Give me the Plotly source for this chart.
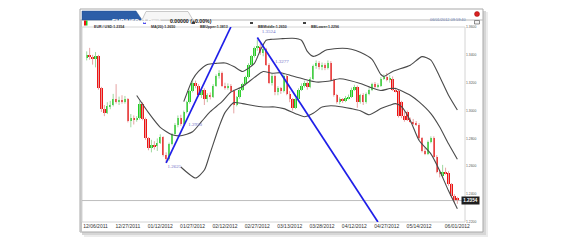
import plotly.graph_objects as go

# ---------------- data ----------------
bar_open = [1.3380, 1.3400, 1.3385, 1.3370, 1.3395, 1.3160, 1.3010, 1.2985, 1.3030, 1.3040,
            1.3085, 1.3060, 1.3075, 1.3065, 1.3080, 1.2925, 1.2950, 1.2935, 1.2945, 1.3050,
            1.2940, 1.2800, 1.2730, 1.2755, 1.2745, 1.2770, 1.2810, 1.2680, 1.2650, 1.2760,
            1.2830, 1.2900, 1.2950, 1.2905, 1.2990, 1.3060, 1.3140, 1.3200, 1.3180, 1.3110,
            1.3150, 1.3080, 1.3110, 1.3100, 1.3180, 1.3250, 1.3270, 1.3180, 1.3165, 1.3180,
            1.3140, 1.3040, 1.3095, 1.3150, 1.3190, 1.3240, 1.3330, 1.3390, 1.3450, 1.3460,
            1.3410, 1.3440, 1.3330, 1.3200, 1.3250, 1.3130, 1.3160, 1.3140, 1.3250, 1.3120,
            1.3080, 1.3020, 1.3080, 1.3150, 1.3180, 1.3200, 1.3170, 1.3230, 1.3320, 1.3340,
            1.3310, 1.3330, 1.3305, 1.3345, 1.3220, 1.3110, 1.3060, 1.3080, 1.3070, 1.3090,
            1.3100, 1.3150, 1.3170, 1.3060, 1.3110, 1.3060, 1.3120, 1.3150, 1.3190, 1.3170,
            1.3180, 1.3230, 1.3240, 1.3220, 1.3230, 1.3150, 1.3140, 1.3060, 1.2960, 1.2990,
            1.2935, 1.2920, 1.2905, 1.2900, 1.2800, 1.2710, 1.2690, 1.2775, 1.2805, 1.2670,
            1.2560, 1.2530, 1.2560, 1.2555, 1.2470, 1.2385, 1.2370]
bar_high = [1.3425, 1.3450, 1.3400, 1.3420, 1.3400, 1.3170, 1.3040, 1.3060, 1.3070, 1.3120,
            1.3190, 1.3100, 1.3110, 1.3105, 1.3090, 1.2975, 1.2965, 1.2960, 1.3070, 1.3060,
            1.2950, 1.2810, 1.2790, 1.2780, 1.2800, 1.2830, 1.2815, 1.2700, 1.2770, 1.2840,
            1.2910, 1.2965, 1.2970, 1.3000, 1.3070, 1.3150, 1.3225, 1.3215, 1.3190, 1.3165,
            1.3160, 1.3125, 1.3130, 1.3190, 1.3260, 1.3290, 1.3280, 1.3200, 1.3195, 1.3190,
            1.3150, 1.3105, 1.3160, 1.3200, 1.3250, 1.3340, 1.3400, 1.3460, 1.3510, 1.3480,
            1.3480, 1.3450, 1.3340, 1.3265, 1.3260, 1.3175, 1.3170, 1.3265, 1.3260, 1.3140,
            1.3090, 1.3090, 1.3160, 1.3195, 1.3215, 1.3210, 1.3240, 1.3330, 1.3360, 1.3355,
            1.3345, 1.3340, 1.3360, 1.3355, 1.3230, 1.3120, 1.3095, 1.3090, 1.3105, 1.3115,
            1.3165, 1.3185, 1.3180, 1.3120, 1.3125, 1.3130, 1.3160, 1.3200, 1.3205, 1.3195,
            1.3240, 1.3260, 1.3270, 1.3255, 1.3245, 1.3165, 1.3150, 1.3070, 1.2995, 1.3000,
            1.2950, 1.2940, 1.2925, 1.2910, 1.2810, 1.2735, 1.2785, 1.2815, 1.2815, 1.2680,
            1.2575, 1.2610, 1.2590, 1.2565, 1.2480, 1.2400, 1.2380]
bar_low = [1.3360, 1.3365, 1.3330, 1.3310, 1.3150, 1.2990, 1.2960, 1.2975, 1.3010, 1.3030,
           1.3050, 1.3040, 1.3050, 1.3050, 1.2915, 1.2880, 1.2900, 1.2920, 1.2935, 1.2930,
           1.2790, 1.2715, 1.2700, 1.2720, 1.2710, 1.2760, 1.2670, 1.2625, 1.2640, 1.2750,
           1.2820, 1.2880, 1.2890, 1.2895, 1.2980, 1.3050, 1.3130, 1.3160, 1.3100, 1.3090,
           1.3040, 1.3060, 1.3080, 1.3090, 1.3170, 1.3230, 1.3170, 1.3150, 1.3150, 1.3130,
           1.2980, 1.3030, 1.3085, 1.3140, 1.3180, 1.3230, 1.3320, 1.3380, 1.3430, 1.3400,
           1.3390, 1.3320, 1.3190, 1.3180, 1.3110, 1.3110, 1.3120, 1.3130, 1.3110, 1.3060,
           1.3000, 1.3010, 1.3070, 1.3140, 1.3165, 1.3150, 1.3160, 1.3220, 1.3300, 1.3295,
           1.3290, 1.3290, 1.3295, 1.3210, 1.3100, 1.3050, 1.3045, 1.3055, 1.3060, 1.3080,
           1.3090, 1.3140, 1.3020, 1.3050, 1.3040, 1.3050, 1.3110, 1.3140, 1.3160, 1.3160,
           1.3170, 1.3220, 1.3210, 1.3200, 1.3140, 1.3130, 1.2950, 1.2945, 1.2920, 1.2925,
           1.2910, 1.2895, 1.2890, 1.2790, 1.2700, 1.2680, 1.2680, 1.2765, 1.2660, 1.2550,
           1.2520, 1.2520, 1.2540, 1.2460, 1.2375, 1.2340, 1.2330]
bar_close = [1.3400, 1.3385, 1.3370, 1.3395, 1.3160, 1.3010, 1.2985, 1.3030, 1.3040, 1.3085,
             1.3060, 1.3075, 1.3065, 1.3080, 1.2925, 1.2950, 1.2935, 1.2945, 1.3050, 1.2940,
             1.2800, 1.2730, 1.2755, 1.2745, 1.2770, 1.2810, 1.2680, 1.2650, 1.2760, 1.2830,
             1.2900, 1.2950, 1.2905, 1.2990, 1.3060, 1.3140, 1.3200, 1.3180, 1.3110, 1.3150,
             1.3080, 1.3110, 1.3100, 1.3180, 1.3250, 1.3270, 1.3180, 1.3165, 1.3180, 1.3140,
             1.3040, 1.3095, 1.3150, 1.3190, 1.3240, 1.3330, 1.3390, 1.3450, 1.3460, 1.3410,
             1.3440, 1.3330, 1.3200, 1.3250, 1.3130, 1.3160, 1.3140, 1.3250, 1.3120, 1.3080,
             1.3020, 1.3080, 1.3150, 1.3180, 1.3200, 1.3170, 1.3230, 1.3320, 1.3340, 1.3310,
             1.3330, 1.3305, 1.3345, 1.3220, 1.3110, 1.3060, 1.3080, 1.3070, 1.3090, 1.3100,
             1.3150, 1.3170, 1.3060, 1.3110, 1.3060, 1.3120, 1.3150, 1.3190, 1.3170, 1.3180,
             1.3230, 1.3240, 1.3220, 1.3230, 1.3150, 1.3140, 1.2960, 1.2960, 1.2930, 1.2935,
             1.2920, 1.2905, 1.2900, 1.2800, 1.2710, 1.2690, 1.2775, 1.2805, 1.2670, 1.2560,
             1.2545, 1.2560, 1.2550, 1.2470, 1.2385, 1.2360, 1.2354]

tick_bars = [3, 14, 25, 36, 47, 58, 69, 80, 91, 102, 113, 126]
tick_labels = ["12/06/2011", "12/27/2011", "01/12/2012", "01/27/2012", "02/12/2012",
               "02/27/2012", "03/13/2012", "03/28/2012", "04/12/2012", "04/27/2012",
               "05/14/2012", "06/01/2012"]
price_ticks = [1.22, 1.24, 1.26, 1.28, 1.30, 1.32, 1.34, 1.36]

bb_mid_bars = [17, 21, 25, 29, 32, 36, 39, 42, 46, 49, 53, 57, 60, 63, 66, 70, 74, 78,
               82, 86, 89, 93, 96, 100, 103, 105, 110, 113, 117, 120, 123, 126]
bb_mid = [1.3108, 1.2985, 1.2880, 1.2826, 1.2819, 1.2848, 1.2920, 1.2992, 1.3064, 1.3133,
          1.3173, 1.3238, 1.3280, 1.3268, 1.3272, 1.3248, 1.3225, 1.3205, 1.3210, 1.3228,
          1.3218, 1.3194, 1.3170, 1.3144, 1.3158, 1.3158, 1.3110, 1.3062, 1.2978, 1.2882,
          1.2761, 1.2650]
bb_up_bars = [33, 36, 38, 41, 44, 47, 50, 53, 57, 59, 61, 63, 66, 70, 73, 75, 77, 79, 81,
              83, 87, 90, 93, 97, 100, 101, 104, 110, 114, 117, 120, 123, 126]
bb_up = [1.3064, 1.3223, 1.3281, 1.3331, 1.3339, 1.3342, 1.3317, 1.3281, 1.3339, 1.3432,
         1.3505, 1.3512, 1.3516, 1.3519, 1.3505, 1.3425, 1.3389, 1.3404, 1.3432, 1.3440,
         1.3447, 1.3440, 1.3418, 1.3368, 1.3259, 1.3245, 1.3281, 1.3326, 1.3387, 1.3362,
         1.3243, 1.3110, 1.3004]
bb_low_bars = [32, 37, 40, 42, 45, 47, 50, 53, 56, 60, 64, 67, 71, 74, 77, 80, 83, 87, 90,
               93, 96, 100, 103, 105, 107, 110, 113, 117, 120, 123, 126]
bb_low = [1.2595, 1.2516, 1.2573, 1.2696, 1.2884, 1.2985, 1.3057, 1.3050, 1.3038, 1.3026,
          1.3026, 1.3014, 1.2978, 1.2956, 1.2981, 1.3025, 1.3035, 1.3026, 1.3014, 1.2999,
          1.2970, 1.3014, 1.3038, 1.3050, 1.3028, 1.2929, 1.2785, 1.2689, 1.2568, 1.2424,
          1.2296]

trend1_bars = [27, 49]
trend1_vals = [1.2625, 1.3600]
trend2_bars = [58, 99]
trend2_vals = [1.3524, 1.2200]
trend_labels = ["1.2625", "1.2950", "1.3524", "1.3277"]
trend_label_bars = [27.5, 34.5, 59.5, 64.0]
trend_label_vals = [1.2595, 1.2898, 1.3565, 1.3353]

last_price = 1.2354
title_text = "EUR/USD (1 Day)"
change_text = "0.00000 (+0.00%)"
stamp_text = "06/01/2012 09:59:40"
legend_items = ["EUR / USD:1.2354", "MA(20):1.2650", "BBUpper:1.3813",
                "BBMiddle:1.2650", "BBLower:1.2296"]

# ---------------- layout geometry (pixels) ----------------
L, R, T, B = 82, 465, 27, 222
W, H = R - L, B - T


def PX(x):
    return (x - L) / W


def PY(y):
    return (B - y) / H


UP_C, DN_C = "#1fcf1f", "#ee1111"
UP_W, DN_W = "#9fd89f", "#e6a3a3"
BAND_C = "#4a4a4a"
BLUE = "#1f1fe8"
FONT = "Liberation Sans"

n = len(bar_close)
idx = list(range(n))

fig = go.Figure()

# price line
fig.add_trace(go.Scatter(x=[-5, n + 5], y=[last_price, last_price], mode="lines",
                         line=dict(color="#bdbdbd", width=1), hoverinfo="skip"))

# wicks
wx_u, wy_u, wx_d, wy_d = [], [], [], []
for i in idx:
    if bar_close[i] >= bar_open[i]:
        wx_u += [i, i, None]
        wy_u += [bar_low[i], bar_high[i], None]
    else:
        wx_d += [i, i, None]
        wy_d += [bar_low[i], bar_high[i], None]
fig.add_trace(go.Scatter(x=wx_u, y=wy_u, mode="lines", line=dict(color=UP_W, width=1),
                         hoverinfo="skip"))
fig.add_trace(go.Scatter(x=wx_d, y=wy_d, mode="lines", line=dict(color=DN_W, width=1),
                         hoverinfo="skip"))

# bodies
bases = [min(o, c) for o, c in zip(bar_open, bar_close)]
heights = [max(abs(c - o), 0.0004) for o, c in zip(bar_open, bar_close)]
colors = [UP_C if c >= o else DN_C for o, c in zip(bar_open, bar_close)]
fig.add_trace(go.Bar(x=idx, y=heights, base=bases, marker=dict(color=colors, line=dict(width=0)),
                     width=0.8, hoverinfo="skip"))

# bollinger bands
for bx, by in [(bb_up_bars, bb_up), (bb_mid_bars, bb_mid), (bb_low_bars, bb_low)]:
    fig.add_trace(go.Scatter(x=bx, y=by, mode="lines",
                             line=dict(color=BAND_C, width=1.1, shape="spline", smoothing=0.6),
                             hoverinfo="skip"))

# trend lines
fig.add_trace(go.Scatter(x=trend1_bars, y=trend1_vals, mode="lines",
                         line=dict(color=BLUE, width=1.7), hoverinfo="skip"))
fig.add_trace(go.Scatter(x=trend2_bars, y=trend2_vals, mode="lines",
                         line=dict(color=BLUE, width=1.7), hoverinfo="skip"))
fig.add_trace(go.Scatter(x=trend_label_bars, y=trend_label_vals, mode="text", text=trend_labels,
                         textposition="middle right",
                         textfont=dict(family="Liberation Serif", size=5, color="#7070c8"),
                         hoverinfo="skip"))

shapes = []
ann = []

# panel shadow + panel
shapes.append(dict(type="rect", xref="paper", yref="paper", x0=PX(84), x1=PX(488), y0=PY(237), y1=PY(12),
                   fillcolor="#ececec", line=dict(width=0), layer="below"))
shapes.append(dict(type="rect", xref="paper", yref="paper", x0=PX(82), x1=PX(486), y0=PY(235), y1=PY(11),
                   fillcolor="#d6d6d6", line=dict(width=0), layer="below"))
shapes.append(dict(type="rect", xref="paper", yref="paper", x0=PX(80), x1=PX(483), y0=PY(232), y1=PY(9),
                   fillcolor="white", line=dict(color="#a9a9a9", width=1), layer="below"))
shapes.append(dict(type="rect", xref="paper", yref="paper", x0=PX(80), x1=PX(82), y0=PY(232), y1=PY(20),
                   fillcolor="#c4c4c4", line=dict(width=0), layer="below"))
# header line
shapes.append(dict(type="line", xref="paper", yref="paper", x0=PX(80), x1=PX(483), y0=PY(20), y1=PY(20),
                   line=dict(color="#b8b8b8", width=1), layer="below"))
# tabs
shapes.append(dict(type="path", xref="paper", yref="paper", layer="below",
                   path=f"M {PX(82)},{PY(20)} L {PX(82)},{PY(11)} L {PX(136)},{PY(11)} L {PX(142)},{PY(20)} Z",
                   fillcolor="#2c5ea8", line=dict(color="#234d8c", width=0.5)))
shapes.append(dict(type="path", xref="paper", yref="paper", layer="below",
                   path=f"M {PX(142)},{PY(20)} L {PX(146)},{PY(11.5)} L {PX(188)},{PY(11.5)} L {PX(193)},{PY(20)} Z",
                   fillcolor="#f6f6f6", line=dict(color="#b5b5b5", width=0.7)))
ann.append(dict(xref="paper", yref="paper", x=PX(110), y=PY(15.6), text=f"<b>{title_text}</b>",
                showarrow=False, font=dict(family=FONT, size=6, color="#ffffff")))
ann.append(dict(xref="paper", yref="paper", x=PX(168), y=PY(16), text=f"<b>{change_text}</b>",
                showarrow=False, font=dict(family=FONT, size=5.2, color="#222222")))
ann.append(dict(xref="paper", yref="paper", x=PX(469), y=PY(14.5), text=stamp_text, xanchor="right",
                showarrow=False, font=dict(family=FONT, size=3.9, color="#6a80b4")))
shapes.append(dict(type="circle", xref="paper", yref="paper", x0=PX(474.5), x1=PX(479.5), y0=PY(16.5),
                   y1=PY(11.5), fillcolor="#d82020", line=dict(color="#a01010", width=0.5)))
shapes.append(dict(type="rect", xref="paper", yref="paper", x0=PX(474.5), x1=PX(479.5), y0=PY(24), y1=PY(20.5),
                   fillcolor="#f2f2f2", line=dict(color="#606060", width=0.7)))

# legend row
shapes.append(dict(type="rect", xref="paper", yref="paper", x0=PX(84), x1=PX(86), y0=PY(25.5), y1=PY(20.5),
                   fillcolor=DN_C, line=dict(width=0)))
shapes.append(dict(type="rect", xref="paper", yref="paper", x0=PX(86), x1=PX(87.5), y0=PY(25.5), y1=PY(20.5),
                   fillcolor=UP_C, line=dict(width=0)))
leg_x = [92, 149, 198, 256, 309]
dash_x = [None, 143, 192, 250, 303]
dash_c = [None, BLUE, "#111111", "#111111", "#111111"]
for k, txt in enumerate(legend_items):
    if dash_x[k] is not None:
        shapes.append(dict(type="rect", xref="paper", yref="paper", x0=PX(dash_x[k]), x1=PX(dash_x[k] + 3),
                           y0=PY(23.8), y1=PY(22.2), fillcolor=dash_c[k], line=dict(width=0)))
    ann.append(dict(xref="paper", yref="paper", x=PX(leg_x[k]), y=PY(23.2), text=f"<b>{txt}</b>",
                    xanchor="left", showarrow=False, font=dict(family=FONT, size=3.6, color="#333333")))

# plot border
shapes.append(dict(type="rect", xref="paper", yref="paper", x0=0, x1=1, y0=0, y1=1,
                   line=dict(color="#d4d4d4", width=1), layer="below"))

# last price box
ann.append(dict(xref="paper", yref="y", x=PX(461), y=last_price, text=f"<b>{last_price:.4f}</b>",
                xanchor="left", showarrow=False, bgcolor="#1e1e1e", borderpad=1.2,
                font=dict(family=FONT, size=4.6, color="white")))

fig.update_layout(
    width=570, height=240,
    margin=dict(l=L, r=570 - R, t=T, b=240 - B),
    paper_bgcolor="white", plot_bgcolor="rgba(0,0,0,0)",
    showlegend=False, bargap=0,
    shapes=shapes, annotations=ann,
    xaxis=dict(range=[-1.6, 128.6], tickmode="array", tickvals=tick_bars, ticktext=tick_labels,
               showgrid=False, zeroline=False, showline=False, ticks="", ticklen=0,
               tickfont=dict(family=FONT, size=5, color="#333333"), fixedrange=True),
    yaxis=dict(range=[1.22, 1.36], side="right", tickmode="array", tickvals=price_ticks,
               tickformat=".4f", showgrid=False, zeroline=False, showline=False, ticks="",
               tickfont=dict(family=FONT, size=3.4, color="#555555"), fixedrange=True),
)

fig.write_html("out.html")
